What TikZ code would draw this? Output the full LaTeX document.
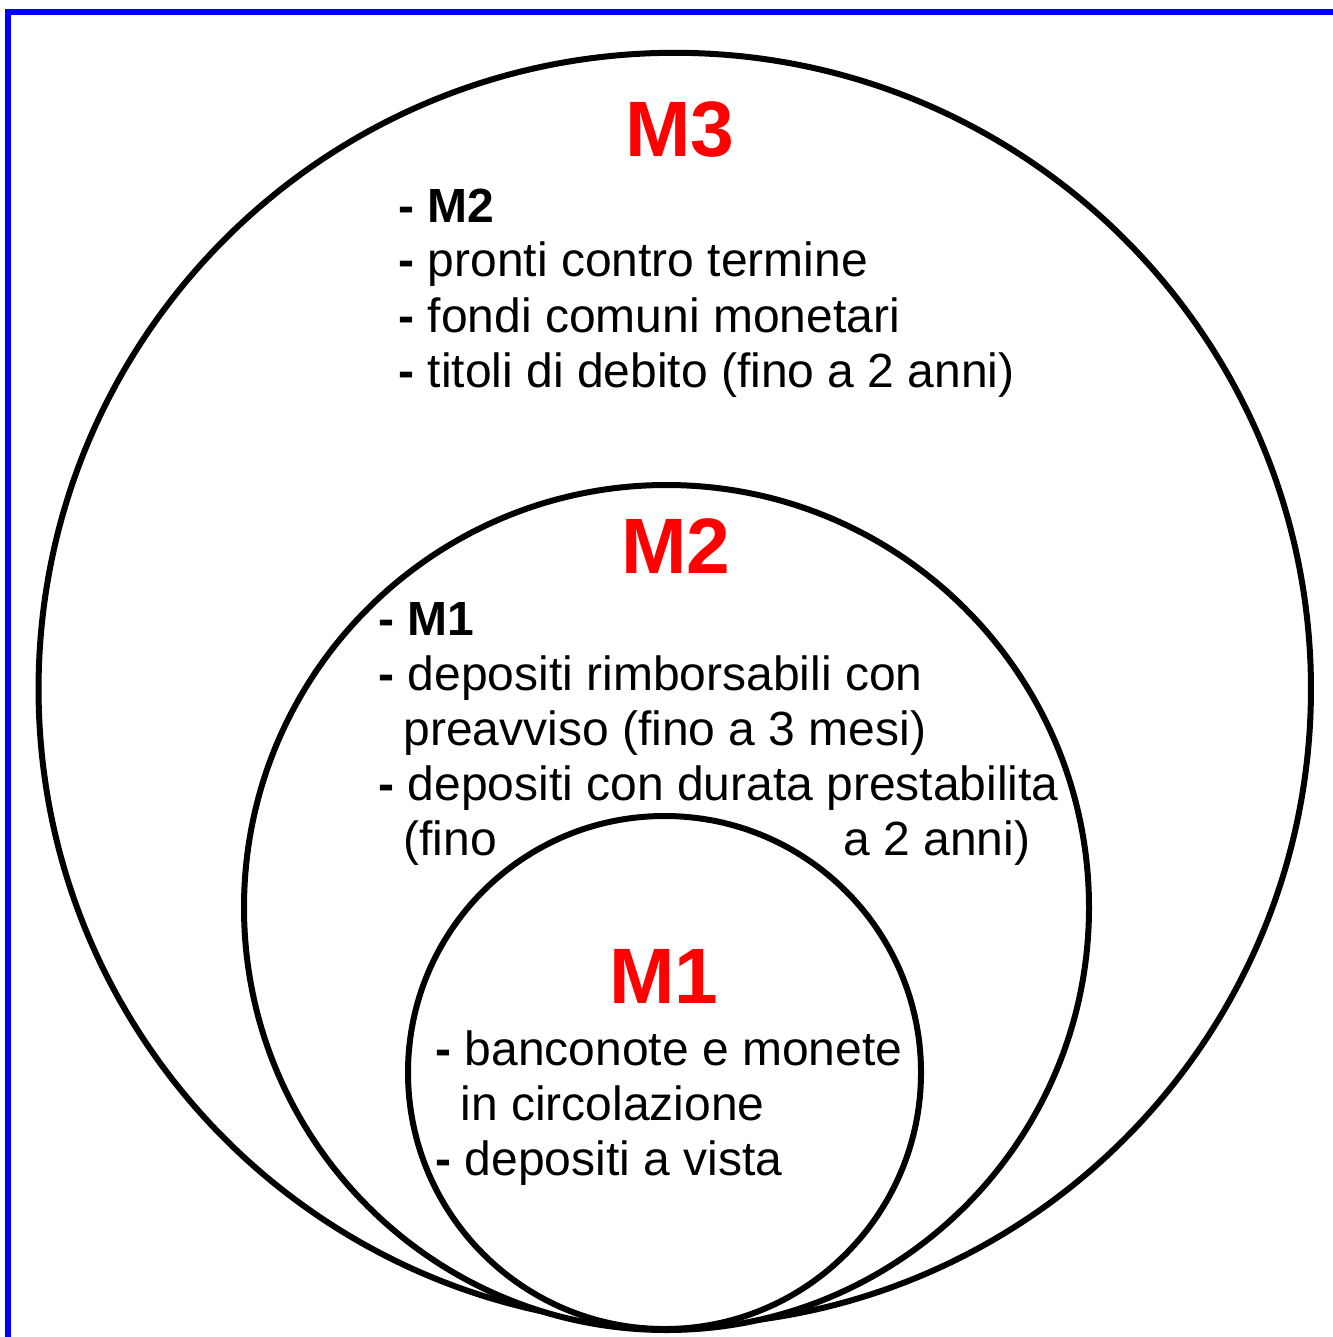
\documentclass[tikz,border=0pt]{standalone}
\usepackage{fontspec}
\setmainfont{Liberation Sans}
\begin{document}
\begin{tikzpicture}[x=0.5pt,y=-0.5pt,
    ring/.style={draw=black,fill=white,line width=3pt},
    title/.style={text=red,font=\fontsize{39.3}{46}\selectfont\bfseries,anchor=base,inner sep=0pt},
    item/.style={font=\fontsize{24}{27.5}\selectfont,anchor=base west,inner sep=0pt}]
    \useasboundingbox (0,0) rectangle (1332,1337);
    \draw[blue,line width=3pt] (8,1340) -- (8,12) -- (1335,12);

    \coordinate (O3) at (674.75,689);
    \coordinate (O2) at (666.5,907.5);
    \coordinate (O1) at (664.5,1072.5);

    \draw[ring] (O3) circle[radius=318.1pt];
    \node[title] (m3) at (680,157) {M3};
    \foreach \y/\t [count=\i] in {222/\textbf{-} \textbf{M2},277/\textbf{-} pronti contro termine,
        332/\textbf{-} fondi comuni monetari,387/\textbf{-} titoli di debito (fino a 2 anni)}
      \node[item] (m3l\i) at (398,\y) {\t};

    \draw[ring] (O2) circle[radius=211.25pt];
    \node[title] (m2) at (676,573) {M2};
    \foreach \x/\y/\t [count=\i] in {378/635/\textbf{-} \textbf{M1},378/690/\textbf{-} depositi rimborsabili con,
        403/745/preavviso (fino a 3 mesi),378/800/\textbf{-} depositi con durata prestabilita,
        403/855/(fino,843/855/a 2 anni)}
      \node[item] (m2l\i) at (\x,\y) {\t};

    \draw[ring] (O1) circle[radius=128.25pt];
    \node[title] (m1) at (664,1003) {M1};
    \foreach \x/\y/\t [count=\i] in {435/1065/\textbf{-} banconote e monete,460/1120/in circolazione,
        435/1175/\textbf{-} depositi a vista}
      \node[item] (m1l\i) at (\x,\y) {\t};
\end{tikzpicture}
\end{document}
